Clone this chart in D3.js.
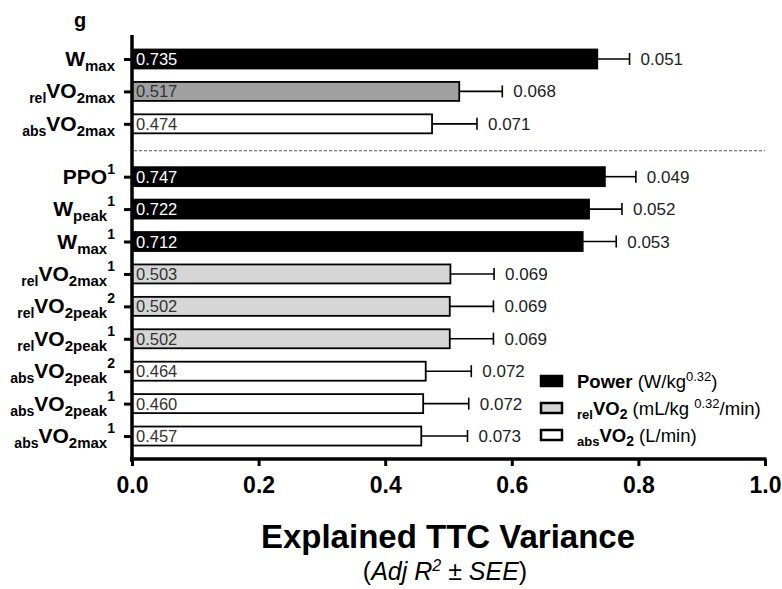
<!DOCTYPE html>
<html>
<head>
<meta charset="utf-8">
<script src="https://cdn.jsdelivr.net/npm/d3@7"></script>
<style>
  body { margin: 0; background: #fff; }
  svg { font-family: "Liberation Sans", Arial, sans-serif; }
</style>
</head>
<body>
<script>
// row labels, split into pieces: prefix subscript, main, subscript, superscript
var labelPre  = ['', 'rel', 'abs', '', '', '', 'rel', 'rel', 'rel', 'abs', 'abs', 'abs'];
var labelMain = ['W', 'VO', 'VO', 'PPO', 'W', 'W', 'VO', 'VO', 'VO', 'VO', 'VO', 'VO'];
var labelSub  = ['max', '2max', '2max', '', 'peak', 'max', '2max', '2peak', '2peak', '2peak', '2peak', '2max'];
var labelSup  = ['', '', '', '1', '1', '1', '1', '2', '1', '2', '1', '1'];
var groups    = [0, 0, 0, 1, 1, 1, 1, 1, 1, 1, 1, 1];
var kinds     = ['power', 'relA', 'abs', 'power', 'power', 'power', 'rel', 'rel', 'rel', 'abs', 'abs', 'abs'];
var r2        = [0.735, 0.517, 0.474, 0.747, 0.722, 0.712, 0.503, 0.502, 0.502, 0.464, 0.460, 0.457];
var see       = [0.051, 0.068, 0.071, 0.049, 0.052, 0.053, 0.069, 0.069, 0.069, 0.072, 0.072, 0.073];
var xTicks    = [0, 0.2, 0.4, 0.6, 0.8, 1.0];

var fills = { power: '#000', relA: '#a0a0a0', rel: '#d6d6d6', abs: '#fff' };

var W = 782, H = 589;
var svg = d3.select('body').append('svg')
  .attr('width', W)
  .attr('height', H);

var x = d3.scaleLinear().domain([0, 1]).range([132, 765]);
var slot = function(i) { return i + groups[i] * 0.63; };
var y = d3.scaleLinear().domain([-0.74, 12.4]).range([35, 461]);

var rows = d3.range(r2.length);
var barH = 19;

// panel letter
svg.append('text')
  .attr('x', 80).attr('y', 27)
  .attr('text-anchor', 'middle')
  .style('font-weight', 'bold')
  .style('font-size', '20px')
  .text('g');

// separator
svg.append('line')
  .attr('x1', x(0) + 2).attr('x2', x(1))
  .attr('y1', y(2.83)).attr('y2', y(2.83))
  .style('stroke', '#555')
  .style('stroke-width', 1.2)
  .style('stroke-dasharray', '3,2');

// bars
svg.append('g').selectAll('rect')
  .data(rows)
  .enter()
  .append('rect')
    .attr('x', x(0))
    .attr('y', function(i) { return y(slot(i)) - barH / 2; })
    .attr('width', function(i) { return x(r2[i]) - x(0); })
    .attr('height', barH)
    .style('fill', function(i) { return fills[kinds[i]]; })
    .style('stroke', '#000')
    .style('stroke-width', 1.8);

// value labels inside bars
svg.append('g').selectAll('text')
  .data(rows)
  .enter()
  .append('text')
    .attr('x', x(0) + 4)
    .attr('y', function(i) { return y(slot(i)) + 6; })
    .style('font-size', '16.5px')
    .style('fill', function(i) { return kinds[i] === 'power' ? '#fff' : '#333'; })
    .text(function(i) { return d3.format('.3f')(r2[i]); });

// error bars (positive side)
var err = svg.append('g');
err.selectAll('line.h')
  .data(rows)
  .enter()
  .append('line')
    .attr('class', 'h')
    .attr('x1', function(i) { return x(r2[i]); })
    .attr('x2', function(i) { return x(r2[i] + see[i]); })
    .attr('y1', function(i) { return y(slot(i)); })
    .attr('y2', function(i) { return y(slot(i)); })
    .style('stroke', '#000')
    .style('stroke-width', 1.6);
err.selectAll('line.c')
  .data(rows)
  .enter()
  .append('line')
    .attr('class', 'c')
    .attr('x1', function(i) { return x(r2[i] + see[i]); })
    .attr('x2', function(i) { return x(r2[i] + see[i]); })
    .attr('y1', function(i) { return y(slot(i)) - 6; })
    .attr('y2', function(i) { return y(slot(i)) + 6; })
    .style('stroke', '#000')
    .style('stroke-width', 1.6);
err.selectAll('text')
  .data(rows)
  .enter()
  .append('text')
    .attr('x', function(i) { return x(r2[i] + see[i]) + 11; })
    .attr('y', function(i) { return y(slot(i)) + 6; })
    .style('font-size', '17px')
    .style('fill', '#222')
    .text(function(i) { return d3.format('.3f')(see[i]); });

// x axis
var xAxis = svg.append('g')
  .attr('transform', 'translate(0,' + 459 + ')')
  .call(d3.axisBottom(x).tickValues(xTicks).tickSize(7).tickSizeOuter(0).tickPadding(11)
        .tickFormat(d3.format('.1f')));
xAxis.select('.domain').style('stroke', '#000').style('stroke-width', 3.5)
  .attr('d', 'M' + (x(0) - 2) + ',0H' + (x(1) + 1.5));
xAxis.selectAll('.tick line').style('stroke', '#000').style('stroke-width', 3);
xAxis.selectAll('.tick text')
  .style('font-family', '"Liberation Sans", Arial, sans-serif')
  .style('font-size', '23px')
  .style('font-weight', 'bold')
  .style('fill', '#000');

// y axis
var yAxis = svg.append('g')
  .attr('transform', 'translate(' + x(0) + ',0)')
  .call(d3.axisLeft(y).tickValues(rows.map(slot)).tickSize(8).tickSizeOuter(0).tickFormat(''));
yAxis.select('.domain').style('stroke', '#000').style('stroke-width', 3.5)
  .attr('d', 'M0,' + y(-0.74) + 'V' + (y(12.4) + 1));
yAxis.selectAll('.tick line').style('stroke', '#000').style('stroke-width', 3);

// y labels with sub/superscripts, right-aligned by measuring
var labelRight = 115;
var lab = svg.append('g').selectAll('text')
  .data(rows)
  .enter()
  .append('text')
    .attr('x', 0)
    .attr('y', function(i) { return y(slot(i)) + 7; })
    .style('font-weight', 'bold')
    .style('fill', '#000');
lab.each(function(i) {
  var t = d3.select(this);
  var shift = 0;
  if (labelPre[i]) {
    t.append('tspan').attr('dy', 5).style('font-size', '14px').text(labelPre[i]);
    shift = 5;
  }
  t.append('tspan').attr('dy', -shift).style('font-size', '21px').text(labelMain[i]);
  shift = 0;
  if (labelSub[i]) {
    t.append('tspan').attr('dy', 5).style('font-size', '15px').text(labelSub[i]);
    shift = 5;
  }
  if (labelSup[i]) {
    t.append('tspan').attr('dy', -10 - shift).style('font-size', '14px').text(labelSup[i]);
  }
  var w = this.getComputedTextLength();
  t.attr('x', labelRight - w);
});

// legend
var legendKinds = ['power', 'rel', 'abs'];
var leg = svg.append('g').selectAll('g')
  .data(legendKinds)
  .enter()
  .append('g')
    .attr('transform', function(d, i) { return 'translate(541,' + (381 + i * 27) + ')'; });
leg.append('rect')
  .attr('x', 0).attr('y', -5)
  .attr('width', 21).attr('height', 10)
  .style('fill', function(d) { return fills[d]; })
  .style('stroke', '#000')
  .style('stroke-width', 2.5);
leg.each(function(d) {
  var t = d3.select(this).append('text')
    .attr('x', 36).attr('y', 7)
    .style('font-size', '18.5px')
    .style('fill', '#000');
  if (d === 'power') {
    t.append('tspan').style('font-weight', 'bold').text('Power');
    t.append('tspan').text(' (W/kg');
    t.append('tspan').attr('dy', -7).style('font-size', '13px').text('0.32');
    t.append('tspan').attr('dy', 7).text(')');
  } else {
    t.append('tspan').attr('dy', 4).style('font-weight', 'bold').style('font-size', '13px').text(d);
    t.append('tspan').attr('dy', -4).style('font-weight', 'bold').text('VO');
    t.append('tspan').attr('dy', 4).style('font-weight', 'bold').style('font-size', '14px').text('2');
    if (d === 'rel') {
      t.append('tspan').attr('dy', -4).text(' (mL/kg ');
      t.append('tspan').attr('dy', -7).style('font-size', '13px').text(' 0.32');
      t.append('tspan').attr('dy', 7).text('/min)');
    } else {
      t.append('tspan').attr('dy', -4).text(' (L/min)');
    }
  }
});

// axis titles
svg.append('text')
  .attr('x', 448).attr('y', 548)
  .attr('text-anchor', 'middle')
  .style('font-weight', 'bold')
  .style('font-size', '33px')
  .text('Explained TTC Variance');

var sub = svg.append('text')
  .attr('x', 445).attr('y', 580)
  .attr('text-anchor', 'middle')
  .style('font-style', 'italic')
  .style('font-size', '25px');
sub.append('tspan').style('font-style', 'normal').text('(');
sub.append('tspan').text('Adj R');
sub.append('tspan').attr('dy', -9).style('font-size', '16px').text('2');
sub.append('tspan').attr('dy', 9).text(' \u00b1 SEE');
sub.append('tspan').style('font-style', 'normal').text(')');
</script>
</body>
</html>
